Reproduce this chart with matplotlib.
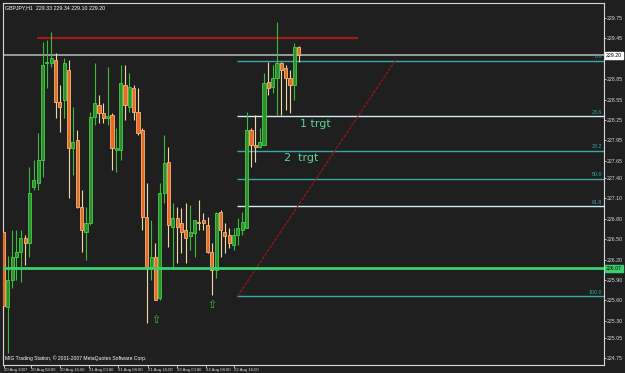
import matplotlib
matplotlib.use("Agg")
import matplotlib.pyplot as plt
import numpy as np

# ---- data (GBPJPY H1 candles) ----
opens = [226.60, 225.50, 225.90, 226.24, 226.31, 226.51, 226.44, 227.26, 227.32, 227.66,
         229.09, 229.09, 229.13, 228.51, 228.54, 228.99, 227.84, 227.96, 226.97, 226.60,
         226.74, 228.29, 228.47, 228.35, 228.28, 228.32, 227.81, 227.81, 228.76, 228.44,
         228.72, 228.37, 228.10, 226.82, 226.09, 226.24, 225.63, 227.18, 227.63, 226.68,
         226.81, 226.74, 226.63, 226.54, 226.59, 226.75, 226.78, 226.71, 226.31, 226.04,
         226.90, 226.60, 226.56, 226.41, 226.56, 226.63, 226.66, 228.10, 227.88, 227.85,
         227.88, 228.81, 228.74, 228.87, 229.09, 229.01, 228.87, 228.76, 229.33]
highs = [226.62, 226.25, 226.63, 226.63, 226.63, 226.56, 227.56, 227.66, 228.06, 229.40,
         229.43, 229.54, 229.24, 228.76, 229.16, 229.13, 228.44, 228.10, 227.22, 226.97,
         228.37, 229.09, 228.62, 228.50, 229.03, 228.35, 228.13, 229.06, 229.06, 228.94,
         228.76, 228.72, 228.13, 227.32, 226.78, 226.44, 227.32, 228.03, 227.85, 227.03,
         226.97, 226.96, 227.03, 227.00, 226.78, 227.07, 226.88, 226.82, 226.44, 226.90,
         226.93, 226.74, 226.66, 226.66, 226.81, 226.90, 228.37, 228.13, 228.32, 228.13,
         228.94, 229.10, 229.06, 229.69, 229.10, 229.06, 228.99, 229.38, 229.34]
lows = [225.49, 224.82, 225.78, 225.90, 225.87, 226.12, 226.24, 227.22, 227.22, 227.41,
        228.72, 229.03, 228.28, 228.07, 228.28, 227.10, 227.44, 226.96, 226.31, 226.19,
        226.71, 228.18, 228.21, 228.21, 228.18, 227.51, 227.49, 227.66, 228.25, 228.37,
        228.25, 228.03, 226.63, 225.27, 225.90, 225.60, 225.60, 227.03, 226.38, 226.09,
        226.15, 226.29, 226.15, 226.34, 226.24, 226.63, 226.63, 226.29, 225.68, 225.93,
        226.24, 226.29, 226.37, 226.34, 226.41, 226.56, 226.66, 227.56, 227.63, 227.84,
        227.88, 228.62, 228.65, 228.32, 228.32, 228.40, 228.35, 228.54, 229.10]
closes = [225.51, 225.90, 226.24, 226.31, 226.51, 226.44, 227.18, 227.37, 227.66, 229.06,
          229.10, 229.16, 228.51, 228.44, 229.09, 227.84, 227.93, 226.97, 226.63, 226.74,
          228.29, 228.50, 228.35, 228.28, 228.31, 227.84, 227.84, 228.79, 228.47, 228.74,
          228.37, 228.06, 226.82, 226.09, 226.24, 225.60, 227.18, 227.62, 226.71, 226.81,
          226.68, 226.60, 226.51, 226.60, 226.78, 226.74, 226.74, 226.31, 226.04, 226.88,
          226.63, 226.54, 226.44, 226.56, 226.66, 226.75, 228.10, 227.88, 227.85, 227.93,
          228.79, 228.72, 228.87, 229.09, 228.99, 228.87, 228.76, 229.32, 229.20]

resistance_price = 229.46
resistance_span = [7.7, 81.7]
bid_price = 229.20
support_price = 226.07
fib_high = 229.12
fib_low = 225.66
fib_levels = [0.0, 23.6, 38.2, 50.0, 61.8, 100.0]
fib_start = 53.9
fib_trend_end = 90.2
arrow_bars = [35, 48]
arrow_prices = [225.31, 225.53]
target_texts = ["1 trgt", "2  trgt"]
target_bars = [68.3, 64.5]
target_prices = [228.19, 227.69]

ytick_vals = [229.75, 229.45, 228.85, 228.55, 228.25, 227.95, 227.65, 227.40, 227.10,
              226.80, 226.50, 226.20, 225.90, 225.60, 225.30, 225.05, 224.75]
xtick_pos = [0.1, 6.3, 13.0, 19.7, 26.3, 33.2, 39.9, 46.6, 53.2]
xtick_labels = ["20 Aug 2007", "20 Aug 08:00", "20 Aug 16:00", "21 Aug 00:00", "21 Aug 08:00",
                "21 Aug 16:00", "22 Aug 00:00", "22 Aug 08:00", "22 Aug 16:00"]

SMALL = ["Liberation Sans", "DejaVu Sans"]

# ---- figure ----
BG = "#1f1f1f"
fig = plt.figure(figsize=(6.25, 3.73), dpi=100, facecolor=BG)
ax = fig.add_axes([3/625, 8/373, 601/625, 362/373], facecolor=BG)
ax.set_xlim(-0.1, 138.3)
ax.set_ylim(224.65, 229.97)

for s in ax.spines.values():
    s.set_color("#d8d8d8")
    s.set_linewidth(0.8)

# horizontal lines
ax.axhline(bid_price, color="#9a9a9a", lw=1.4, zorder=1)
ax.axhline(support_price, color="#3ccf6e", lw=2.0, zorder=4)
ax.hlines(resistance_price, resistance_span[0], resistance_span[1], color="#a01818", lw=1.6, zorder=2)

# fibonacci
rng = fib_high - fib_low
fib_colors = {0.0: "#3aa6ad", 23.6: "#cdeff2", 38.2: "#3aa6ad", 50.0: "#3aa6ad",
              61.8: "#cdeff2", 100.0: "#3aa6ad"}
for lv in fib_levels:
    p = fib_high - rng * lv / 100.0
    ax.hlines(p, fib_start, 138.3, color=fib_colors[lv], lw=1.0, zorder=2)
    ax.text(137.9, p + 0.02, f"{lv:.1f}", color="#3aa6ad", fontsize=3.8, family=SMALL,
            ha="right", va="bottom", zorder=5)
ax.plot([fib_start, fib_trend_end], [fib_low, fib_high], color="#a01818", lw=0.8,
        ls=(0, (3, 1)), zorder=2)

# candles
n = len(opens)
xs = np.arange(n)
for i in range(n):
    o, h, l, c = opens[i], highs[i], lows[i], closes[i]
    bull = c >= o
    wick_col = "#3cbc3c" if bull else "#efd9a6"
    ax.vlines(xs[i], l, h, color=wick_col, lw=0.8, zorder=3)
    face = "#2f8f2f" if bull else "#e8691f"
    edge = "#45d045" if bull else "#f3b77a"
    ax.bar(xs[i], max(abs(c - o), 0.012), bottom=min(o, c), width=0.72,
           color=face, edgecolor=edge, linewidth=0.6, zorder=3)

# arrows
for b, p in zip(arrow_bars, arrow_prices):
    ax.text(b, p, "⇧", color="#3cbc3c", fontsize=8, ha="center", va="center", zorder=5)

# target texts
for t, b, p in zip(target_texts, target_bars, target_prices):
    ax.text(b, p, t, color="#5fd38f", fontsize=8, ha="left", va="center", zorder=5)

# titles
ax.text(0.003, 0.993, "GBPJPY,H1  229.33 229.34 229.10 229.20", transform=ax.transAxes,
        color="white", fontsize=3.8, family=SMALL, ha="left", va="top")
ax.text(0.003, 0.012, "MIG Trading Station, © 2001-2007 MetaQuotes Software Corp.",
        transform=ax.transAxes, color="white", fontsize=3.6, family=SMALL, ha="left", va="bottom")

# y axis on right
ax.yaxis.tick_right()
ax.set_yticks(ytick_vals)
ax.set_yticklabels([f"{v:.2f}" for v in ytick_vals], family=SMALL)
ax.tick_params(axis="y", colors="#d8d8d8", labelsize=3.8, length=1.5, width=0.6, pad=0.8)

# x axis
ax.set_xticks(xtick_pos)
ax.set_xticklabels(xtick_labels, ha="left", family=SMALL)
ax.tick_params(axis="x", colors="#d8d8d8", labelsize=3.1, length=2, width=0.6, pad=0.5)

# price boxes
ax.text(1.003, bid_price, "229.20", transform=ax.get_yaxis_transform(), color="black",
        fontsize=3.8, family=SMALL, ha="left", va="center",
        bbox=dict(boxstyle="square,pad=0.15", fc="white", ec="white"), zorder=6, clip_on=False)
ax.text(1.003, support_price, "226.07", transform=ax.get_yaxis_transform(), color="black",
        fontsize=3.8, family=SMALL, ha="left", va="center",
        bbox=dict(boxstyle="square,pad=0.15", fc="#3ccf6e", ec="#3ccf6e"), zorder=6, clip_on=False)

fig.savefig("out.png", dpi=100, facecolor=BG)
